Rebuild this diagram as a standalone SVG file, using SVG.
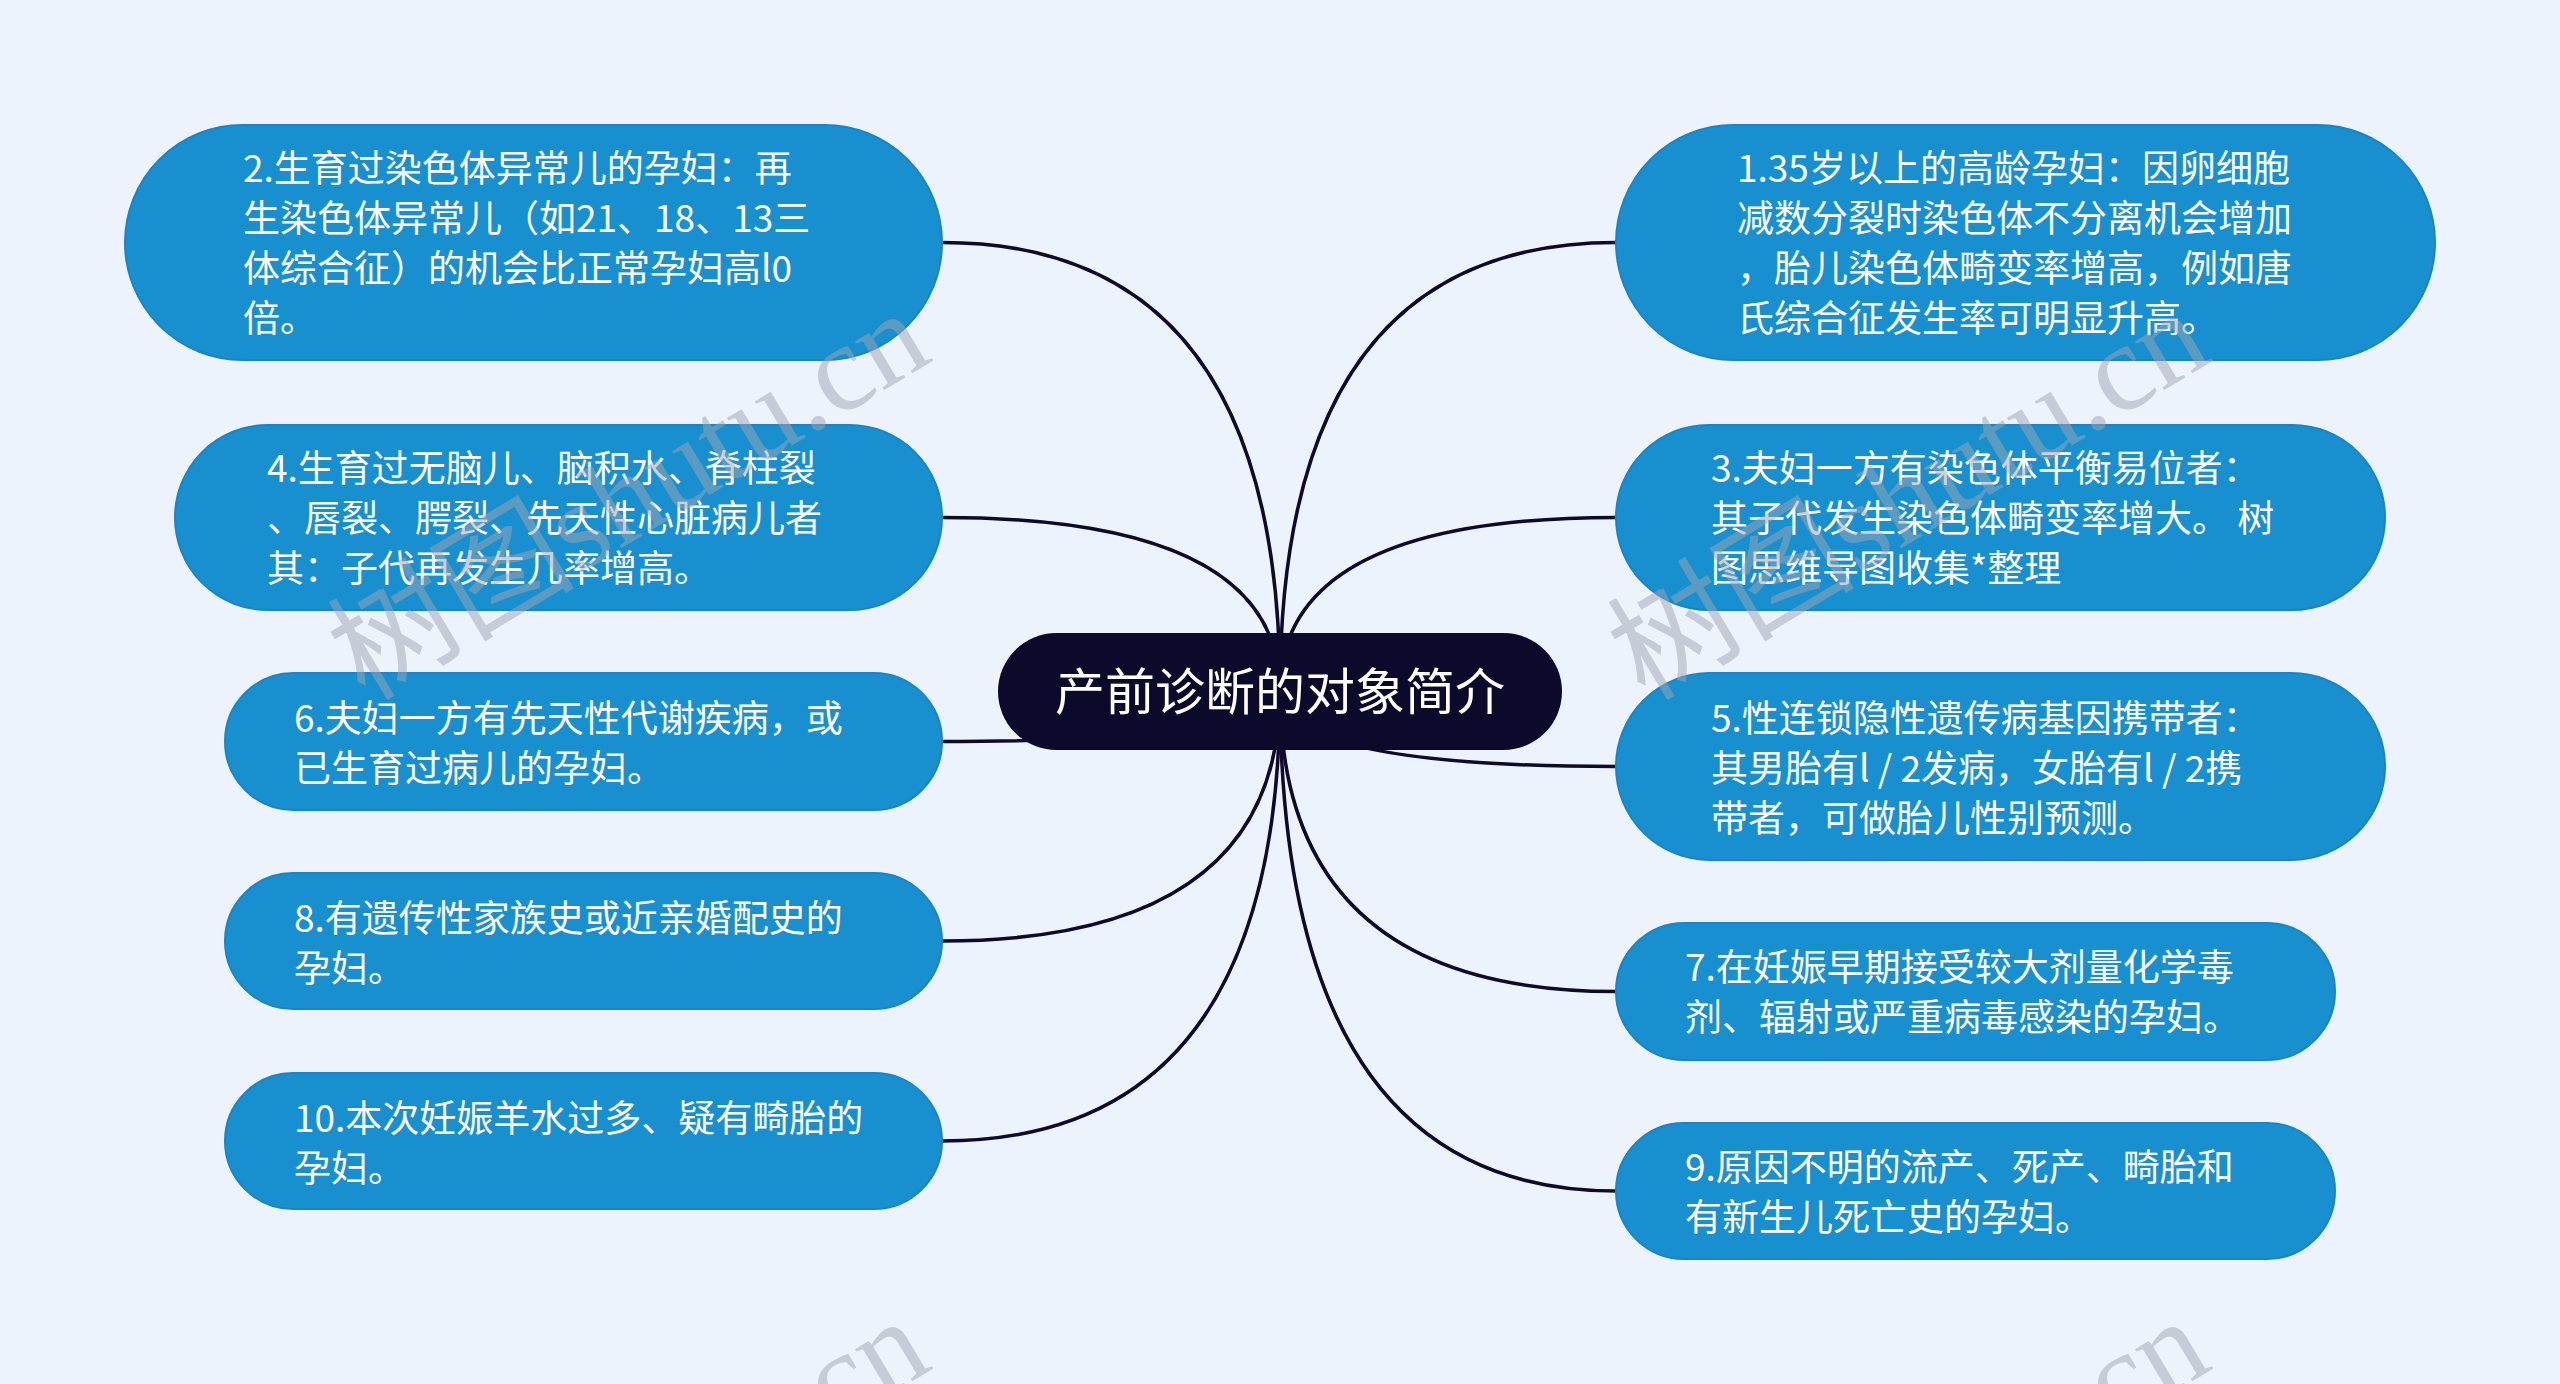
<svg xmlns="http://www.w3.org/2000/svg" width="2560" height="1384" viewBox="0 0 2560 1384">
<style>
.bg{fill:#edf3fd}
.node{fill:#1890d0;stroke:#1a84c4;stroke-width:2}
.root{fill:#0c0a2b}
.t{font-family:"Noto Sans CJK SC","Noto Sans",sans-serif;font-size:37px;fill:#ffffff}
.rt{font-family:"Noto Sans CJK SC","Noto Sans",sans-serif;font-size:50px;fill:#ffffff;text-anchor:middle}
.c{fill:none;stroke:#0d0a2c;stroke-width:3.5}
.wm{font-family:"Liberation Serif","Noto Sans CJK SC",serif;font-size:124px;fill:#9ea3b2;fill-opacity:0.5}
</style>
<rect class="bg" x="0" y="0" width="2560" height="1384"/>
<g id="connectors">
<path class="c" d="M942,242.5 Q1280,242.5 1280,691"/>
<path class="c" d="M942,517.5 Q1280,517.5 1280,691"/>
<path class="c" d="M942,741.5 Q1280,741.5 1280,691"/>
<path class="c" d="M942,941 Q1280,941 1280,691"/>
<path class="c" d="M942,1141 Q1280,1141 1280,691"/>
<path class="c" d="M1616,242.5 Q1280,242.5 1280,691"/>
<path class="c" d="M1616,517.5 Q1280,517.5 1280,691"/>
<path class="c" d="M1616,766.5 Q1280,766.5 1280,691"/>
<path class="c" d="M1616,991.5 Q1280,991.5 1280,691"/>
<path class="c" d="M1616,1191 Q1280,1191 1280,691"/>
</g>
<g id="root">
<rect class="root" x="998" y="633" width="564" height="117" rx="58.5"/>
<text class="rt" x="1280" y="710">产前诊断的对象简介</text>
</g>
<g id="n2">
<rect class="node" x="125" y="125" width="817" height="235" rx="117.5"/>
<text class="t" x="243" y="182">2.生育过染色体异常儿的孕妇：再</text>
<text class="t" x="243" y="232">生染色体异常儿（如21、18、13三</text>
<text class="t" x="243" y="282">体综合征）的机会比正常孕妇高l0</text>
<text class="t" x="243" y="332">倍。</text>
</g>
<g id="n1">
<rect class="node" x="1616" y="125" width="819" height="235" rx="117.5"/>
<text class="t" x="1737" y="182">1.35岁以上的高龄孕妇：因卵细胞</text>
<text class="t" x="1737" y="232">减数分裂时染色体不分离机会增加</text>
<text class="t" x="1737" y="282">，胎儿染色体畸变率增高，例如唐</text>
<text class="t" x="1737" y="332">氏综合征发生率可明显升高。</text>
</g>
<g id="n4">
<rect class="node" x="175" y="425" width="767" height="185" rx="92.5"/>
<text class="t" x="267" y="482">4.生育过无脑儿、脑积水、脊柱裂</text>
<text class="t" x="267" y="532">、唇裂、腭裂、先天性心脏病儿者</text>
<text class="t" x="267" y="582">其：子代再发生几率增高。</text>
</g>
<g id="n3">
<rect class="node" x="1616" y="425" width="769" height="185" rx="92.5"/>
<text class="t" x="1711" y="482">3.夫妇一方有染色体平衡易位者：</text>
<text class="t" x="1711" y="532">其子代发生染色体畸变率增大。 树</text>
<text class="t" x="1711" y="582">图思维导图收集*整理</text>
</g>
<g id="n6">
<rect class="node" x="225" y="673" width="717" height="137" rx="68.5"/>
<text class="t" x="294" y="732">6.夫妇一方有先天性代谢疾病，或</text>
<text class="t" x="294" y="782">已生育过病儿的孕妇。</text>
</g>
<g id="n5">
<rect class="node" x="1616" y="673" width="769" height="187" rx="93.5"/>
<text class="t" x="1711" y="732">5.性连锁隐性遗传病基因携带者：</text>
<text class="t" x="1711" y="782">其男胎有l / 2发病，女胎有l / 2携</text>
<text class="t" x="1711" y="832">带者，可做胎儿性别预测。</text>
</g>
<g id="n8">
<rect class="node" x="225" y="873" width="717" height="136" rx="68"/>
<text class="t" x="294" y="932">8.有遗传性家族史或近亲婚配史的</text>
<text class="t" x="294" y="982">孕妇。</text>
</g>
<g id="n7">
<rect class="node" x="1616" y="923" width="719" height="137" rx="68.5"/>
<text class="t" x="1685" y="981">7.在妊娠早期接受较大剂量化学毒</text>
<text class="t" x="1685" y="1031">剂、辐射或严重病毒感染的孕妇。</text>
</g>
<g id="n10">
<rect class="node" x="225" y="1073" width="717" height="136" rx="68"/>
<text class="t" x="294" y="1132">10.本次妊娠羊水过多、疑有畸胎的</text>
<text class="t" x="294" y="1182">孕妇。</text>
</g>
<g id="n9">
<rect class="node" x="1616" y="1123" width="719" height="136" rx="68"/>
<text class="t" x="1685" y="1181">9.原因不明的流产、死产、畸胎和</text>
<text class="t" x="1685" y="1231">有新生儿死亡史的孕妇。</text>
</g>
<g id="watermark">
<text class="wm" transform="translate(365,702) rotate(-31)">树图shutu.cn</text>
<text class="wm" transform="translate(1645,702) rotate(-31)">树图shutu.cn</text>
<text class="wm" transform="translate(365,1710) rotate(-31)">树图shutu.cn</text>
<text class="wm" transform="translate(1645,1710) rotate(-31)">树图shutu.cn</text>
</g>
</svg>
